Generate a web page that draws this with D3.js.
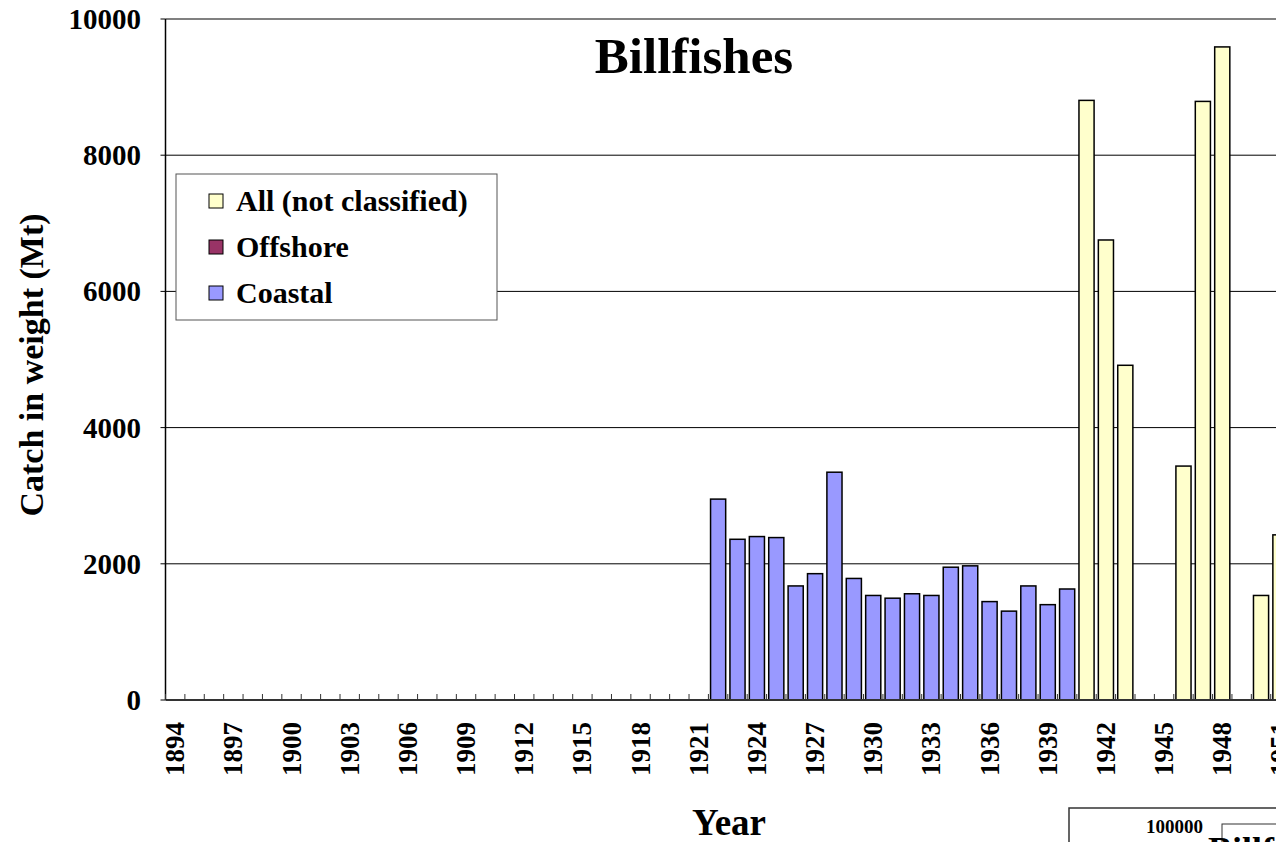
<!DOCTYPE html>
<html>
<head>
<meta charset="utf-8">
<script src="https://cdn.jsdelivr.net/npm/d3@7"></script>
<style>
  body { margin: 0; background: #fff; overflow: hidden; }
  text { font-family: "Liberation Serif", "Times New Roman", serif; font-weight: bold; }
</style>
</head>
<body>
<script>
// years shown on the category axis (chart continues past the right edge)
let years = d3.range(1894, 1961);
let tickYears = years.filter((y) => (y - 1894) % 3 === 0);
let yTicks = [0, 2000, 4000, 6000, 8000, 10000];

// coastal catch, 1922-1940
let coastalYears = d3.range(1922, 1941);
let coastalValues = [2950, 2360, 2400, 2385, 1675, 1855, 3345, 1785, 1535, 1495,
                     1560, 1535, 1950, 1970, 1445, 1305, 1675, 1400, 1630];

// not classified catch
let allYears = [1941, 1942, 1943, 1946, 1947, 1948, 1950, 1951];
let allValues = [8805, 6755, 4915, 3435, 8790, 9590, 1535, 2425];

let seriesNames = ["All (not classified)", "Offshore", "Coastal"];
let seriesColors = ["#FFFFCC", "#993366", "#9999FF"];

window.onload = function() {
  let svg = d3.select("body").append("svg")
    .attr("width", 1276)
    .attr("height", 842);

  let left = 165.5, top = 19, bottom = 700;
  let band = 19.39;

  let x = d3.scaleBand()
    .domain(years)
    .range([left, left + band * years.length])
    .paddingInner(0.22)
    .paddingOuter(0.11);

  let y = d3.scaleLinear()
    .domain([0, 10000])
    .range([bottom, top]);

  let right = left + band * years.length;

  // gridlines
  svg.append("g").selectAll("line")
    .data(yTicks.filter((t) => t > 0))
    .enter().append("line")
      .attr("x1", left).attr("x2", right)
      .attr("y1", (d) => y(d)).attr("y2", (d) => y(d))
      .attr("stroke", (d) => d === 10000 ? "#808080" : "#000")
      .attr("stroke-width", (d) => d === 10000 ? 2 : 1);

  // y tick labels
  svg.append("g").selectAll("text")
    .data(yTicks)
    .enter().append("text")
      .attr("x", 141)
      .attr("y", (d) => y(d) + 10)
      .attr("text-anchor", "end")
      .style("font-size", "29px")
      .text((d) => d);

  // y tick marks
  svg.append("g").selectAll("line")
    .data(yTicks)
    .enter().append("line")
      .attr("x1", left - 5).attr("x2", left)
      .attr("y1", (d) => y(d)).attr("y2", (d) => y(d))
      .attr("stroke", "#000");

  // bars
  let barData = [];
  coastalYears.forEach((yr, i) => barData.push({ year: yr, value: coastalValues[i], color: seriesColors[2] }));
  allYears.forEach((yr, i) => barData.push({ year: yr, value: allValues[i], color: seriesColors[0] }));

  svg.append("g").selectAll("rect")
    .data(barData)
    .enter().append("rect")
      .attr("x", (d) => x(d.year))
      .attr("y", (d) => y(d.value))
      .attr("width", x.bandwidth())
      .attr("height", (d) => bottom - y(d.value))
      .attr("fill", (d) => d.color)
      .attr("stroke", "#000")
      .attr("stroke-width", 1.5);

  // axis lines and ticks between categories
  svg.append("line")
    .attr("x1", left).attr("x2", right)
    .attr("y1", bottom).attr("y2", bottom)
    .attr("stroke", "#333").attr("stroke-width", 2);
  svg.append("line")
    .attr("x1", left).attr("x2", left)
    .attr("y1", top).attr("y2", bottom)
    .attr("stroke", "#000").attr("stroke-width", 1.5);

  svg.append("g").selectAll("line")
    .data(years)
    .enter().append("line")
      .attr("x1", (d) => x(d) - x.step() * x.paddingInner() / 2)
      .attr("x2", (d) => x(d) - x.step() * x.paddingInner() / 2)
      .attr("y1", bottom - 6).attr("y2", bottom)
      .attr("stroke", "#333");

  // x tick labels
  svg.append("g").selectAll("text")
    .data(tickYears)
    .enter().append("text")
      .attr("transform", (d) => "translate(" + (x(d) + x.bandwidth() / 2 + 9) + ",722)rotate(-90)")
      .attr("text-anchor", "end")
      .style("font-size", "27px")
      .text((d) => d);

  // titles
  svg.append("text")
    .attr("x", 694).attr("y", 73)
    .attr("text-anchor", "middle")
    .style("font-size", "51px")
    .text("Billfishes");

  svg.append("text")
    .attr("transform", "translate(43,365)rotate(-90)")
    .attr("text-anchor", "middle")
    .style("font-size", "34px")
    .text("Catch in weight (Mt)");

  svg.append("text")
    .attr("x", 729).attr("y", 835)
    .attr("text-anchor", "middle")
    .style("font-size", "37px")
    .text("Year");

  // legend
  let legend = svg.append("g").attr("transform", "translate(176,174)");
  legend.append("rect")
    .attr("width", 321).attr("height", 146)
    .attr("fill", "#fff").attr("stroke", "#555").attr("stroke-width", 1);
  let items = legend.selectAll("g")
    .data(seriesNames)
    .enter().append("g")
      .attr("transform", (d, i) => "translate(0," + (i * 46) + ")");
  items.append("rect")
    .attr("x", 33).attr("y", 20)
    .attr("width", 14).attr("height", 14)
    .attr("fill", (d, i) => seriesColors[i])
    .attr("stroke", "#000").attr("stroke-width", 1);
  items.append("text")
    .attr("x", 60).attr("y", 37)
    .style("font-size", "30px")
    .text((d) => d);

  // fragment of the next chart peeking in at the bottom right
  svg.append("rect")
    .attr("x", 1069).attr("y", 808)
    .attr("width", 300).attr("height", 100)
    .attr("fill", "#fff").attr("stroke", "#333").attr("stroke-width", 1.5);
  svg.append("text")
    .attr("x", 1203).attr("y", 833)
    .attr("text-anchor", "end")
    .style("font-size", "19px")
    .text("100000");
  svg.append("rect")
    .attr("x", 1222).attr("y", 824)
    .attr("width", 200).attr("height", 100)
    .attr("fill", "none").attr("stroke", "#333");
  svg.append("text")
    .attr("x", 1208).attr("y", 862)
    .style("font-size", "36px")
    .text("Billfishes");
}
</script>
</body>
</html>
